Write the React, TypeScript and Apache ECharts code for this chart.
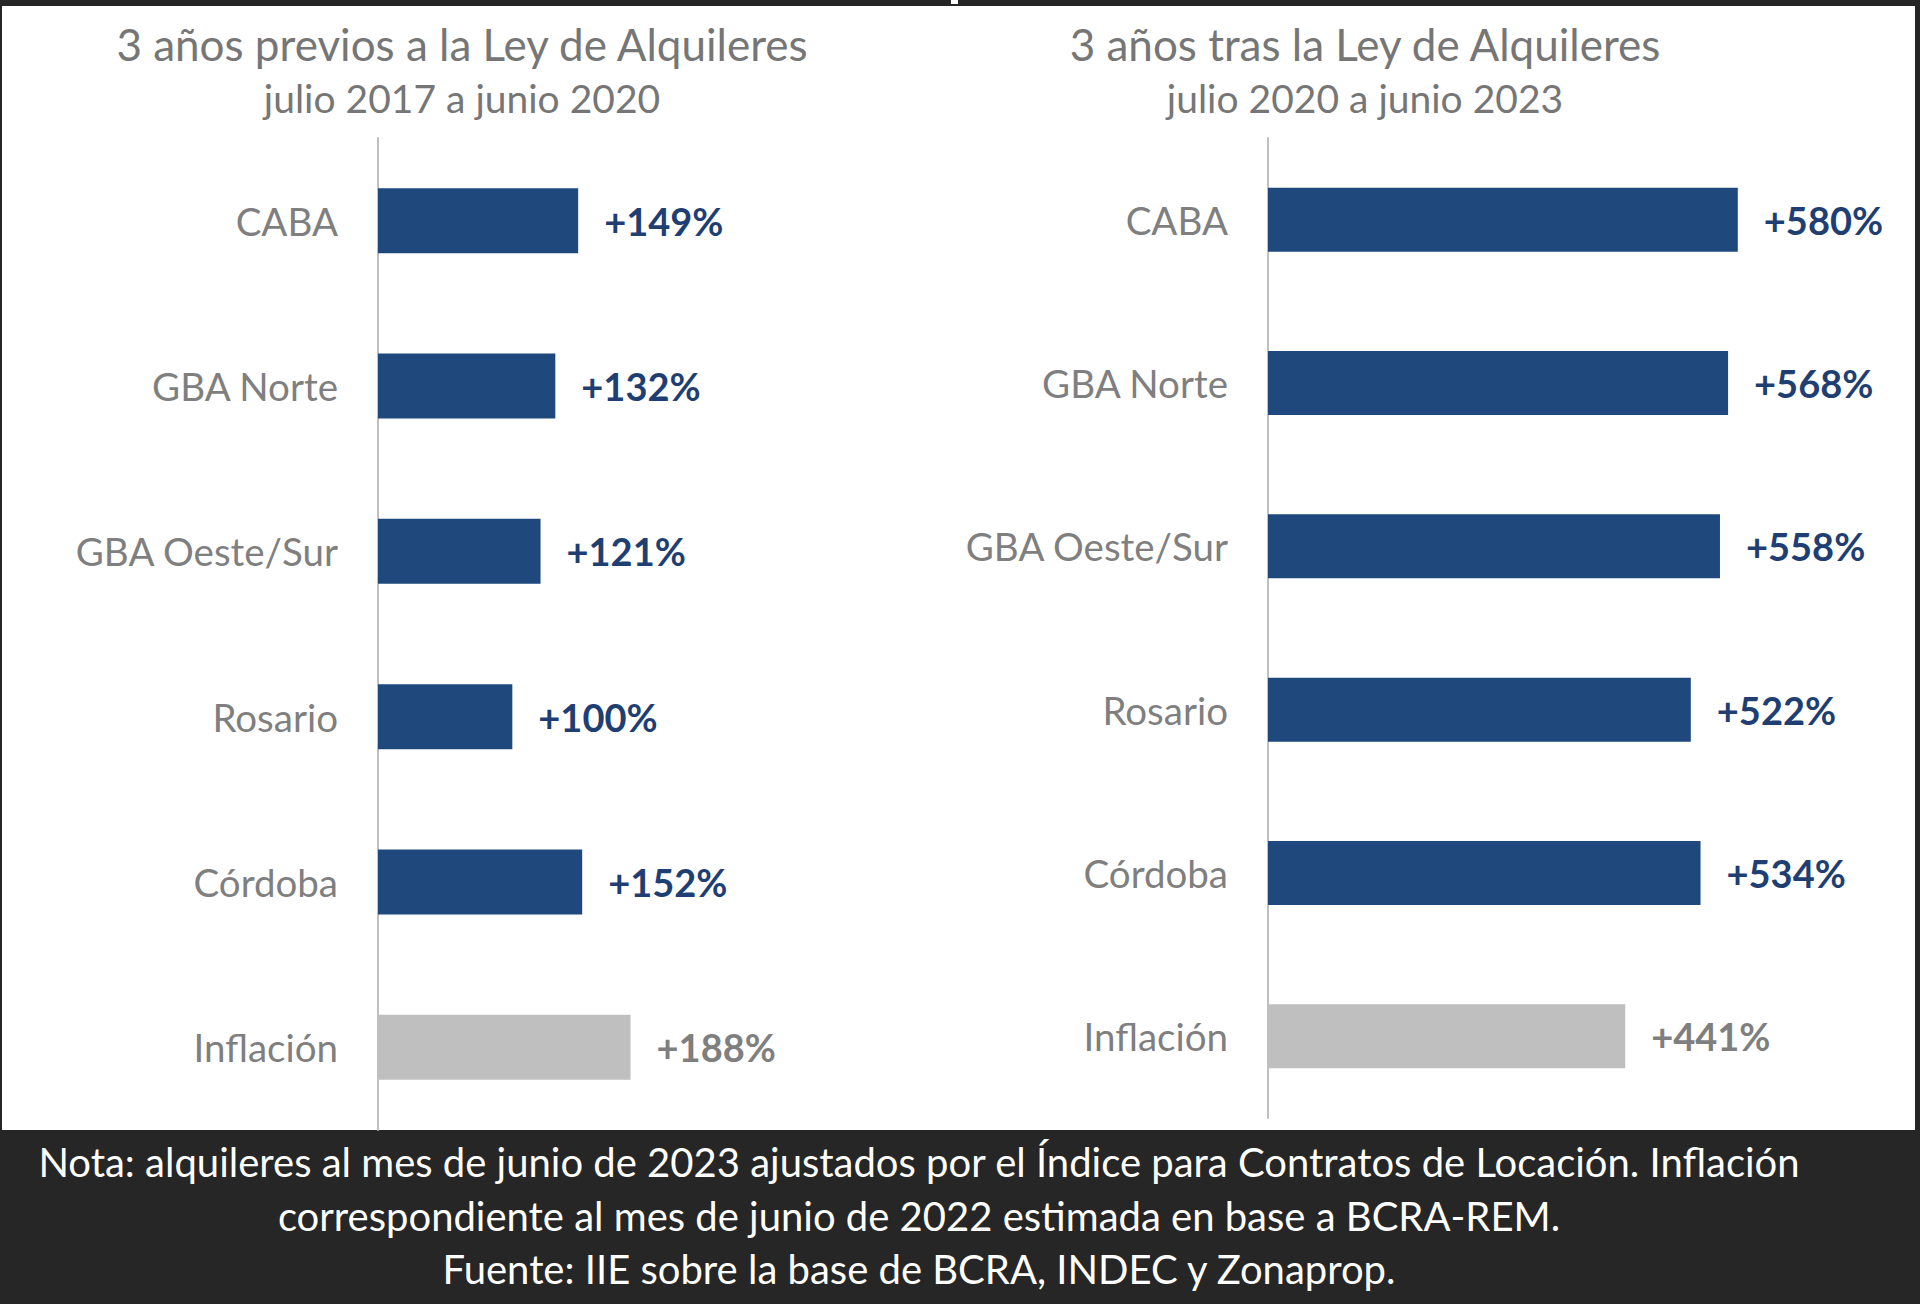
import React, { useEffect, useRef } from "react";
import * as echarts from "echarts";

const categories = ["CABA", "GBA Norte", "GBA Oeste/Sur", "Rosario", "Córdoba", "Inflación"];
const valuesBefore = [149, 132, 121, 100, 152, 188];
const valuesAfter = [580, 568, 558, 522, 534, 441];

const titleLeft = ["3 años previos a la Ley de Alquileres", "julio 2017 a junio 2020"];
const titleRight = ["3 años tras la Ley de Alquileres", "julio 2020 a junio 2023"];
const noteLines = [
  "Nota: alquileres al mes de junio de 2023 ajustados por el Índice para Contratos de Locación. Inflación",
  "correspondiente al mes de junio de 2022 estimada en base a BCRA-REM.",
  "Fuente: IIE sobre la base de BCRA, INDEC y Zonaprop.",
];

const FONT = "Lato, 'Open Sans', sans-serif";
const BLUE = "#1F497D";
const LABEL_BLUE = "#1F3F73";
const GREY_BAR = "#BFBFBF";
const GREY_TEXT = "#7F7F7F";
const DARK = "#262626";

function buildData(vals: number[]) {
  return vals.map((v, i) => {
    const infl = categories[i] === "Inflación";
    return {
      value: v,
      itemStyle: { color: infl ? GREY_BAR : BLUE },
      label: { color: infl ? GREY_TEXT : LABEL_BLUE },
    };
  });
}

export default function App() {
  const ref = useRef<HTMLDivElement>(null);
  useEffect(() => {
    if (!ref.current) return;
    const chart = echarts.init(ref.current, null, { renderer: "svg" });
    const catAxis = (gridIndex: number) => ({
      type: "category",
      gridIndex,
      data: categories,
      inverse: true,
      axisLine: { show: true, lineStyle: { color: "#BFBFBF", width: 2 } },
      axisTick: { show: false },
      axisLabel: { color: GREY_TEXT, fontSize: 38.5, fontFamily: FONT, margin: 40 },
    });
    const valAxis = (gridIndex: number, max: number) => ({
      type: "value",
      gridIndex,
      min: 0,
      max,
      show: false,
      splitLine: { show: false },
    });
    const labelCfg = {
      show: true,
      position: "right",
      distance: 26,
      fontSize: 38,
      fontWeight: "bold",
      fontFamily: FONT,
      formatter: (p: any) => "+" + p.value + "%",
    };
    const titleTexts = (cx: number, lines: string[]) => [
      {
        type: "text",
        x: cx,
        y: 44,
        style: { text: lines[0], fill: "#767676", font: `44px ${FONT}`, align: "center", verticalAlign: "middle" },
      },
      {
        type: "text",
        x: cx,
        y: 98,
        style: { text: lines[1], fill: "#767676", font: `39px ${FONT}`, align: "center", verticalAlign: "middle" },
      },
    ];
    chart.setOption({
      animation: false,
      backgroundColor: "#FFFFFF",
      grid: [
        { left: 378, top: 138, width: 403, height: 992 },
        { left: 1268, top: 138, width: 567, height: 980 },
      ],
      xAxis: [valAxis(0, 300), valAxis(1, 700)],
      yAxis: [catAxis(0), catAxis(1)],
      series: [
        {
          type: "bar",
          xAxisIndex: 0,
          yAxisIndex: 0,
          data: buildData(valuesBefore),
          barWidth: 65,
          label: labelCfg,
        },
        {
          type: "bar",
          xAxisIndex: 1,
          yAxisIndex: 1,
          data: buildData(valuesAfter),
          barWidth: 64,
          label: labelCfg,
        },
      ],
      graphic: [
        { type: "rect", shape: { x: 0, y: 0, width: 1920, height: 6 }, style: { fill: DARK } },
        { type: "rect", shape: { x: 951, y: 0, width: 7, height: 4 }, style: { fill: "#FFFFFF" } },
        { type: "rect", shape: { x: 0, y: 0, width: 2, height: 1304 }, style: { fill: DARK } },
        { type: "rect", shape: { x: 1915, y: 0, width: 5, height: 1304 }, style: { fill: DARK } },
        { type: "rect", shape: { x: 0, y: 1130, width: 1920, height: 174 }, style: { fill: DARK } },
        ...titleTexts(462, titleLeft),
        ...titleTexts(1365, titleRight),
        ...noteLines.map((t, i) => ({
          type: "text",
          x: 919,
          y: 1162 + i * 53.5,
          style: { text: t, fill: "#FFFFFF", font: `40px ${FONT}`, align: "center", verticalAlign: "middle" },
        })),
      ],
    });
    return () => chart.dispose();
  }, []);
  return (
    <div
      ref={ref}
      style={{ position: "fixed", left: 0, top: 0, width: 1920, height: 1304 }}
    />
  );
}
